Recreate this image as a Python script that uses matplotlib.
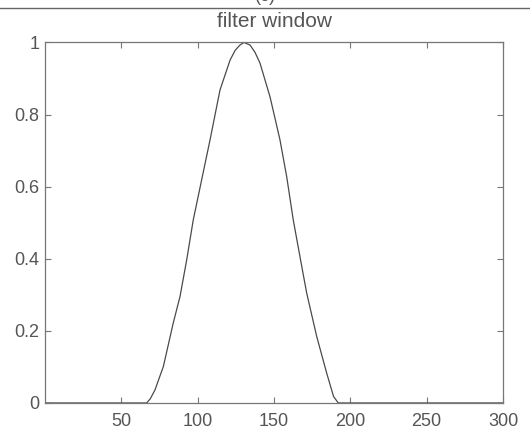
import matplotlib.pyplot as plt
from matplotlib.lines import Line2D

# Filter window curve
sample = [1, 66.6, 69.0, 72.0, 77.5, 84.0, 88.4, 92.8, 97.1, 102.6, 108.1,
          114.6, 121.2, 124.5, 127.7, 130.3, 134.3, 137.5, 140.8, 147.4,
          153.9, 158.3, 162.6, 167.0, 171.4, 178.0, 184.5, 189.0, 192.1, 300]
weight = [0, 0, 0.012, 0.036, 0.101, 0.222, 0.295, 0.397, 0.508, 0.619,
          0.730, 0.868, 0.951, 0.978, 0.993, 1.0, 0.993, 0.973, 0.943,
          0.849, 0.730, 0.628, 0.508, 0.406, 0.305, 0.184, 0.083, 0.018,
          0, 0]

x_ticks = [50, 100, 150, 200, 250, 300]
y_ticks = [0, 0.2, 0.4, 0.6, 0.8, 1]
y_labels = ["0", "0.2", "0.4", "0.6", "0.8", "1"]

plt.rcParams["font.family"] = ["Liberation Sans", "DejaVu Sans"]
grey = "#555555"

fig = plt.figure(figsize=(5.3, 4.38), dpi=100)
ax = fig.add_axes([0.085, 0.08, 0.864, 0.823])

ax.plot(sample, weight, color="#4a4a4a", linewidth=0.9)

ax.set_xlim(0, 300)
ax.set_ylim(0, 1)
ax.set_xticks(x_ticks)
ax.set_yticks(y_ticks)
ax.set_yticklabels(y_labels)
ax.tick_params(direction="in", length=4, width=0.8, colors="#777777",
               labelcolor=grey, labelsize=13, top=True, right=True)
ax.tick_params(axis="x", pad=7)
ax.tick_params(axis="y", pad=4)
for spine in ax.spines.values():
    spine.set_color("#777777")
    spine.set_linewidth(0.9)

ax.set_title("filter window", fontsize=15, color=grey, pad=11)

# rule and cut-off panel label at the very top
fig.add_artist(Line2D([0, 1], [0.982, 0.982], transform=fig.transFigure,
                      color="#666666", linewidth=1.0))
fig.text(0.5, 0.988, "(c)", ha="center", va="bottom", fontsize=13, color=grey)

fig.savefig("out.png", dpi=100)
